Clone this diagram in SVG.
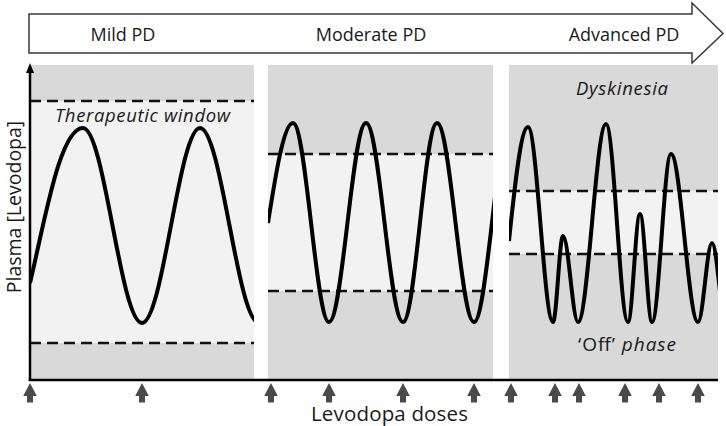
<svg xmlns="http://www.w3.org/2000/svg" width="726" height="426" viewBox="0 0 726 426">
<style>
.lbl{font-family:"Open Sans","Liberation Sans",sans-serif;fill:#1a1a1a;}
.panel{fill:#d9d9d9;}
.band{fill:#f2f2f2;}
.dash{stroke:#111;stroke-width:2.5;stroke-dasharray:11 6;fill:none;}
.curve{stroke:#000;stroke-width:4;fill:none;stroke-linejoin:round;}
.axis{stroke:#000;stroke-width:2.5;fill:none;}
.dose{fill:#4a4a4a;}
</style>
<defs>
<path id="doseArrow" class="dose" d="M0,0 L6.8,13 L3,13 L3,19.5 L-3,19.5 L-3,13 L-6.8,13 Z"/>
<clipPath id="c1"><rect x="30" y="65" width="224" height="315"/></clipPath>
<clipPath id="c2"><rect x="268" y="65" width="225" height="315"/></clipPath>
<clipPath id="c3"><rect x="509" y="65" width="209" height="315"/></clipPath>
</defs>
<g id="stage-arrow">
<polygon points="29,14 692,14 692,3 723,33.5 692,63 692,53 29,53" fill="#fff" stroke="#3a3a3a" stroke-width="1.5"/>
<text class="lbl" x="123" y="41" font-size="18" text-anchor="middle">Mild PD</text>
<text class="lbl" x="371" y="41" font-size="18" text-anchor="middle">Moderate PD</text>
<text class="lbl" x="624" y="41" font-size="18" text-anchor="middle">Advanced PD</text>
</g>
<g id="panel-mild">
<rect class="panel" x="30" y="65" width="224" height="315"/>
<rect class="band" x="30" y="101" width="224" height="242"/>
<line class="dash" x1="30" y1="101" x2="254" y2="101"/>
<line class="dash" x1="30" y1="343" x2="254" y2="343"/>
<path class="curve" clip-path="url(#c1)" d="M30,283 C45,220 60,128 83,128 C104.5,128 120.5,323 142,323 C163,323 179,128 200,128 C221.5,128 237.5,323 259,323"/>
<text class="lbl" x="55" y="122" font-size="18.5" font-style="italic" textLength="175" lengthAdjust="spacing">Therapeutic window</text>
</g>
<g id="panel-moderate">
<rect class="panel" x="268" y="65" width="225" height="315"/>
<rect class="band" x="268" y="154" width="225" height="137"/>
<line class="dash" x1="268" y1="154" x2="493" y2="154"/>
<line class="dash" x1="268" y1="291" x2="493" y2="291"/>
<path class="curve" clip-path="url(#c2)" d="M268,223 C276,172 284,123 293,123 C306,123 316,322 329,322 C342.5,322 352.5,123 366,123 C379.5,123 389.5,322 403,322 C415.4,322 424.6,123 437,123 C450.5,123 460.5,322 474,322 C487,322 497,123 510,123"/>
</g>
<g id="panel-advanced">
<rect class="panel" x="509" y="65" width="209" height="315"/>
<rect class="band" x="509" y="191" width="209" height="63"/>
<line class="dash" x1="509" y1="191" x2="718" y2="191"/>
<line class="dash" x1="509" y1="254" x2="718" y2="254"/>
<path class="curve" clip-path="url(#c3)" d="M509,241 C515,183 521,127 528,127 C537,127 544,322 553,322 C556.6,322 559.4,236 563,236 C568.4,236 572.6,322 578,322 C588,322 596,124 606,124 C614,124 620,322 628,322 C632.3,322 635.7,214 640,214 C644.3,214 647.7,322 652,322 C658.8,322 664.2,154 671,154 C680.7,154 688.3,322 698,322 C703,322 707,243 712,243 C717,243 721,322 726,322"/>
<text class="lbl" x="576" y="95" font-size="18.5" font-style="italic" textLength="92" lengthAdjust="spacing">Dyskinesia</text>
<text class="lbl" x="578" y="351" font-size="19" textLength="98" lengthAdjust="spacing">‘Off’ <tspan font-style="italic">phase</tspan></text>
</g>
<g id="axes">
<line class="axis" x1="30" y1="381" x2="30" y2="72"/>
<polygon points="30,63 34,73 26,73" fill="#000"/>
<line class="axis" x1="28.75" y1="380" x2="718" y2="380"/>
<text class="lbl" font-size="19.5" text-anchor="middle" transform="translate(21,207) rotate(-90)">Plasma [Levodopa]</text>
</g>
<g id="doses">
<use href="#doseArrow" x="30" y="383"/>
<use href="#doseArrow" x="142" y="383"/>
<use href="#doseArrow" x="271" y="383"/>
<use href="#doseArrow" x="329" y="383"/>
<use href="#doseArrow" x="403" y="383"/>
<use href="#doseArrow" x="474" y="383"/>
<use href="#doseArrow" x="511" y="383"/>
<use href="#doseArrow" x="555" y="383"/>
<use href="#doseArrow" x="579" y="383"/>
<use href="#doseArrow" x="625" y="383"/>
<use href="#doseArrow" x="659" y="383"/>
<use href="#doseArrow" x="698" y="383"/>
<text class="lbl" x="311" y="421" font-size="20.5" textLength="157" lengthAdjust="spacing">Levodopa doses</text>
</g>
</svg>
